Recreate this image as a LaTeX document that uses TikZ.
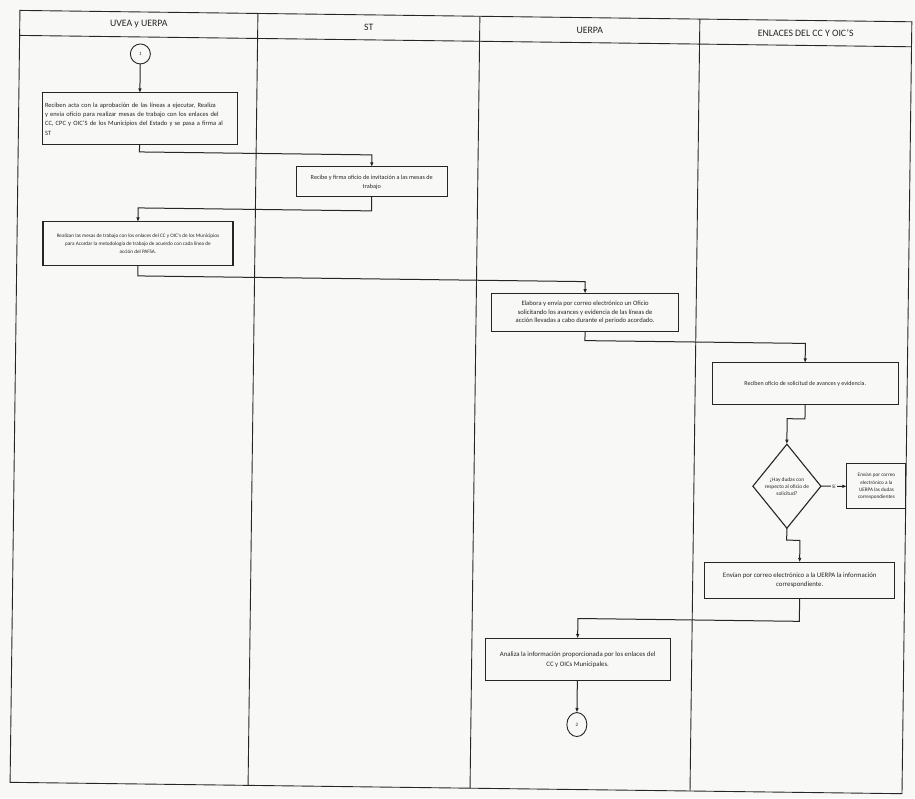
\documentclass[tikz,border=0pt]{standalone}
\usepackage{fontspec}
\setmainfont{Carlito}
\usetikzlibrary{arrows.meta,shapes.geometric}
\definecolor{paper}{RGB}{248,248,246}
\definecolor{ink}{RGB}{38,38,38}
\begin{document}
\begin{tikzpicture}[x=1pt,y=-1pt,
  every node/.style={inner sep=0pt,outer sep=0pt,text=ink},
  lane/.style={draw=ink,line width=0.9pt},
  procbox/.style={draw=ink,line width=1.1pt,fill=paper,align=center},
  flow/.style={draw=ink,line width=1pt,-{Latex[length=4.5pt,width=3.6pt]}},
  hdr/.style={font=\fontsize{9.8}{11}\selectfont},
  tiny/.style={font=\fontsize{5.2}{6.6}\selectfont},
  endpt/.style={draw=ink,line width=0.9pt,fill=paper,font=\fontsize{5}{6}\selectfont}]
\fill[paper] (0,0) rectangle (915,798);
\useasboundingbox (0,0) rectangle (915,798);
% the sheet sits slightly askew: lane lines follow the tilt
\begin{scope}[rotate around={-0.73:(457,399)}]
  % swimlane frame
  \draw[lane] (15,16) rectangle (907,788);
  \draw[lane] (15,41) -- (907,41);
  \draw[lane] (253,16) -- (253,788);
  \draw[lane] (475,16) -- (475,788);
  \draw[lane] (695,16) -- (695,788);
  \node[hdr] (h1) at (134,28.5) {UVEA y UERPA};
  \node[hdr] (h2) at (364,28.5) {ST};
  \node[hdr] (h3) at (585,28.5) {UERPA};
  \node[hdr] (h4) at (801,28.5) {ENLACES DEL CC Y OIC'S};

  % activities
  \node[endpt,circle,minimum size=20pt] (c1) at (136,58) {1};
  \node[procbox,minimum width=195pt,minimum height=52pt,text width=189pt,align=left,
        font=\fontsize{6.5}{9.4}\selectfont] (b1) at (136,123)
    {Reciben acta con la aprobación de las líneas a ejecutar, Realiza\\
     y envía oficio para realizar mesas de trabajo con los enlaces del\\
     CC, CPC y OIC'S de los Municipios del Estado y se pasa a firma al\\
     ST};
  \node[procbox,minimum width=151pt,minimum height=30pt,
        font=\fontsize{6.2}{9}\selectfont] (b2) at (369,183)
    {Recibe y firma oficio de invitación a las mesas de\\ trabajo};
  \node[procbox,minimum width=190pt,minimum height=44pt,
        font=\fontsize{5.2}{8.2}\selectfont] (b3) at (136,248)
    {Realizan las mesas de trabajo con los enlaces del CC y OIC's de los Municipios\\
     para Acordar la metodología de trabajo de acuerdo con cada línea de\\
     acción del PAFSA.};
  \node[procbox,minimum width=187pt,minimum height=38pt,
        font=\fontsize{6.6}{8.6}\selectfont] (b4) at (584,311)
    {Elabora y envía por correo electrónico un Oficio\\
     solicitando los avances y evidencia de las líneas de\\
     acción llevadas a cabo durante el periodo acordado.};
  \node[procbox,minimum width=186pt,minimum height=42pt,
        font=\fontsize{6}{8}\selectfont] (b5) at (805,379.5)
    {Reciben oficio de solicitud de avances y evidencia.};
  \node[procbox,diamond,aspect=0.83,minimum width=68pt,minimum height=84pt,
        font=\fontsize{5.4}{7}\selectfont] (q) at (788,482)
    {¿Hay dudas con\\ respecto al oficio de\\ solicitud?};
  \node[procbox,minimum width=59pt,minimum height=45pt,
        font=\fontsize{5.2}{7.2}\selectfont] (yes) at (877.5,481)
    {Envían por correo\\ electrónico a la\\ UERPA las dudas\\ correspondientes};
  \node[procbox,minimum width=190pt,minimum height=36pt,
        font=\fontsize{6.8}{9.6}\selectfont] (b6) at (802,576)
    {Envían por correo electrónico a la UERPA la información\\ correspondiente.};
  \node[procbox,minimum width=185pt,minimum height=42pt,
        font=\fontsize{6.8}{9.6}\selectfont] (b7) at (581,658)
    {Analiza la información proporcionada por los enlaces del\\ CC y OICs Municipales.};
  \node[endpt,ellipse,minimum width=20pt,minimum height=24pt] (c2) at (581,723) {2};

  % connectors
  \draw[flow] (c1) -- (b1);
  \draw[flow] (b1.south) -- ++(0,7) -| (b2.north);
  \draw[flow] (b2.south) -- ++(0,14) -| (b3.north);
  \draw[flow] (b3.south) -- ++(0,10) -| (b4.north);
  \draw[flow] (b4.south) -- ++(0,9) -| (b5.north);
  \draw[flow] (b5.south) -- ++(0,14) -| (q.north);
  \draw[flow] (q.east) -- node[tiny,fill=paper,inner xsep=1pt] {Sí} (yes.west);
  \draw[flow] (q.south) -- ++(0,12) -| (b6.north);
  \draw[flow] (b6.south) -- ++(0,23) -| (b7.north);
  \draw[flow] (b7) -- (c2);
\end{scope}
\end{tikzpicture}
\end{document}
